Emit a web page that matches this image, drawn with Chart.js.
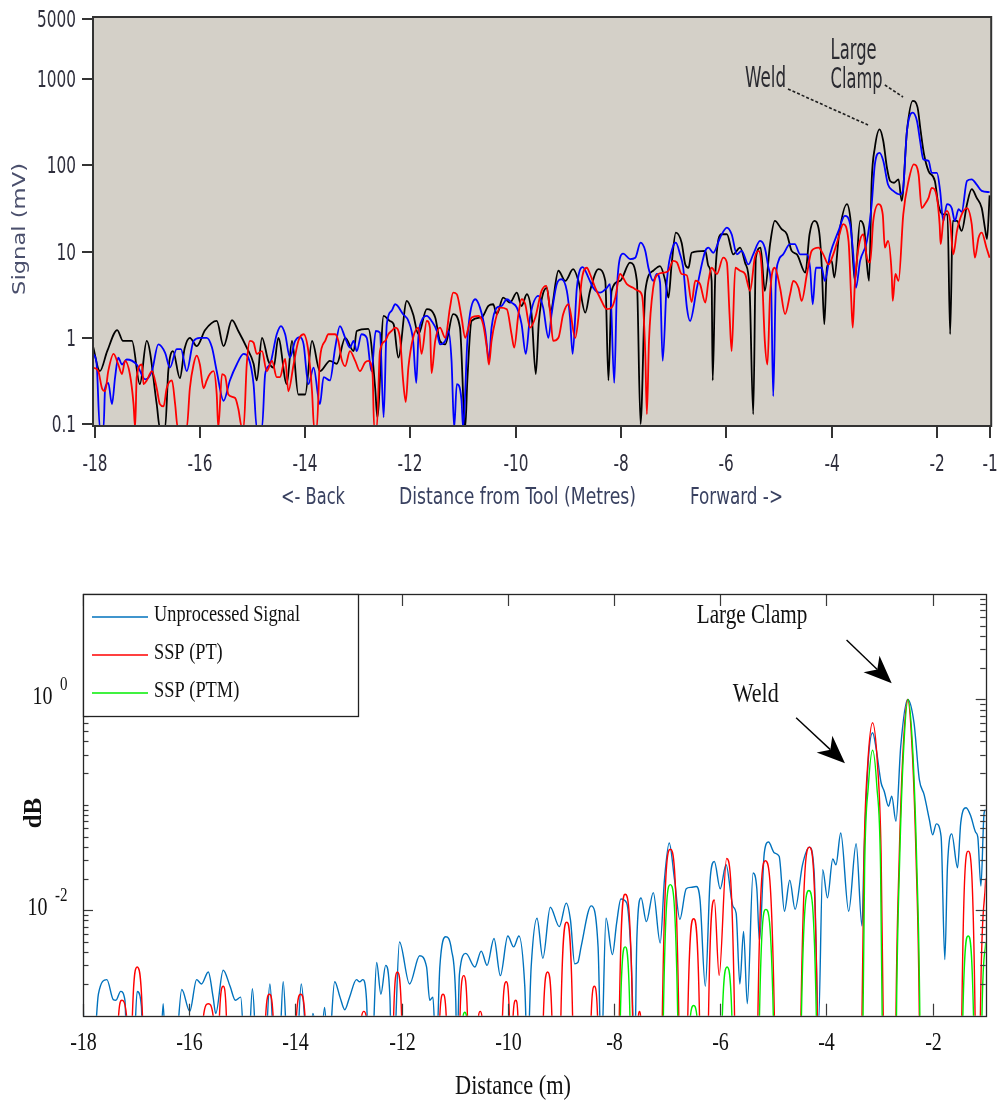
<!DOCTYPE html>
<html lang="en">
<head>
<meta charset="utf-8">
<title>Guided wave signal versus distance from tool</title>
<script src="https://cdn.jsdelivr.net/npm/chart.js@4.4.1/dist/chart.umd.min.js"></script>
<style>
  html, body { margin: 0; padding: 0; background: #ffffff; }
  body { position: relative; width: 1002px; height: 1104px; overflow: hidden; }
  canvas { position: absolute; left: 0; display: block; }
  #upper { top: 0; }
  #lower { top: 560px; }
</style>
</head>
<body>
<canvas id="upper" width="1002" height="530"></canvas>
<canvas id="lower" width="1002" height="544"></canvas>
<script>
// ---------------- Upper panel: received signal (mV) ----------------
const upperXTicks = [-18, -16, -14, -12, -10, -8, -6, -4, -2, -1];
const upperYTicks = [0.1, 1, 10, 100, 1000, 5000];

const blackX = [
  -18.03,-17.9,-17.76,-17.57,-17.46,-17.29,-17.14,-17.01,-16.82,-16.76,
  -16.66,-16.6,-16.51,-16.38,-16.29,-16.19,-16.06,-15.9,-15.68,-15.55,
  -15.39,-15.27,-15.11,-14.98,-14.92,-14.82,-14.7,-14.6,-14.51,-14.35,
  -14.25,-14.13,-14.0,-13.87,-13.72,-13.53,-13.4,-13.24,-13.08,-13.02,
  -12.8,-12.67,-12.63,-12.51,-12.39,-12.32,-12.23,-12.07,-11.95,-11.85,
  -11.69,-11.53,-11.44,-11.34,-11.19,-11.06,-10.96,-10.92,-10.84,-10.65,
  -10.52,-10.43,-10.36,-10.24,-10.11,-9.98,-9.89,-9.79,-9.7,-9.62,
  -9.56,-9.41,-9.34,-9.19,-9.06,-8.91,-8.81,-8.68,-8.59,-8.43,
  -8.3,-8.24,-8.18,-8.02,-7.83,-7.7,-7.63,-7.54,-7.39,-7.26,
  -7.16,-7.1,-7.04,-6.96,-6.85,-6.78,-6.72,-6.66,-6.4,-6.34,
  -6.28,-6.26,-6.21,-6.09,-5.99,-5.87,-5.74,-5.645,-5.56,-5.49,
  -5.44,-5.35,-5.27,-5.17,-5.08,-4.95,-4.85,-4.76,-4.66,-4.5,
  -4.42,-4.33,-4.24,-4.19,-4.14,-4.09,-4.0,-3.95,-3.86,-3.71,
  -3.64,-3.56,-3.46,-3.385,-3.33,-3.29,-3.24,-3.18,-3.09,-3.02,
  -2.95,-2.89,-2.815,-2.73,-2.67,-2.57,-2.46,-2.37,-2.31,-2.245,
  -2.16,-2.04,-1.97,-1.88,-1.8,-1.75,-1.7,-1.62,-1.53,-1.43,
  -1.34,-1.245,-1.15,-1.09,-1.05,-1.0
];
const blackY = [
  0.8,0.41,0.7,1.23,0.92,0.92,0.29,0.92,0.17,0.09,
  0.09,0.41,0.7,0.34,0.75,1.0,0.8,1.23,1.57,0.8,
  1.6,1.2,0.77,0.5,0.32,1.0,0.54,0.45,1.0,0.29,
  0.92,0.22,0.22,0.92,0.41,0.54,0.5,1.0,0.7,1.2,
  1.27,0.26,0.12,1.8,1.57,1.44,0.59,2.68,1.88,1.1,
  2.15,1.72,0.92,0.84,1.88,1.31,0.09,0.32,1.57,1.72,
  2.34,2.45,1.88,2.92,2.56,3.34,2.34,3.2,1.88,0.38,
  1.57,3.8,2.05,6.0,4.57,6.25,4.57,1.96,3.5,6.25,
  4.57,0.32,3.5,4.57,7.45,4.57,0.1,3.5,6.0,6.8,
  4.57,2.92,7.1,16.6,12.7,7.1,6.5,9.7,10.2,6.8,
  4.57,0.32,5.5,15.9,15.9,9.3,11.1,7.45,3.8,0.13,
  8.5,11.1,3.5,12.2,22.7,18.2,15.9,10.2,9.3,5.7,
  15.9,22.7,17.4,7.1,1.44,6.5,7.8,5.0,15.9,35.5,
  22.7,4.57,22.7,19,7.1,4.57,66,161,262,192,
  94,66,63,69,38.8,251,560,475,251,134,
  86,66,34,27,27,1.1,22.7,22.7,17.4,35.5,
  53,42,32,19,14,45
];

const blueX = [
  -18.02,-17.96,-17.9,-17.83,-17.8,-17.74,-17.67,-17.61,-17.55,-17.48,
  -17.39,-17.2,-17.04,-16.91,-16.79,-16.66,-16.57,-16.44,-16.36,-16.25,
  -16.12,-16.0,-15.87,-15.77,-15.68,-15.55,-15.43,-15.3,-15.17,-15.08,
  -14.98,-14.92,-14.82,-14.76,-14.67,-14.54,-14.46,-14.38,-14.29,-14.19,
  -14.1,-14.03,-13.94,-13.84,-13.72,-13.65,-13.53,-13.43,-13.34,-13.24,
  -13.15,-13.08,-13.02,-12.93,-12.83,-12.74,-12.66,-12.58,-12.51,-12.45,
  -12.36,-12.29,-12.14,-12.04,-11.95,-11.89,-11.85,-11.79,-11.69,-11.6,
  -11.5,-11.44,-11.34,-11.28,-11.22,-11.17,-11.12,-11.08,-11.03,-11.0,
  -10.92,-10.87,-10.77,-10.68,-10.58,-10.51,-10.46,-10.36,-10.27,-10.17,
  -10.08,-9.98,-9.89,-9.81,-9.73,-9.57,-9.48,-9.38,-9.32,-9.22,
  -9.13,-9.03,-8.97,-8.92,-8.84,-8.73,-8.62,-8.53,-8.4,-8.27,
  -8.21,-8.13,-8.08,-8.02,-7.96,-7.83,-7.73,-7.63,-7.54,-7.48,
  -7.39,-7.32,-7.26,-7.21,-7.13,-7.01,-6.96,-6.88,-6.82,-6.75,
  -6.69,-6.56,-6.4,-6.34,-6.25,-6.12,-5.99,-5.9,-5.8,-5.71,
  -5.58,-5.49,-5.36,-5.27,-5.2,-5.15,-5.11,-5.06,-5.01,-4.92,
  -4.79,-4.7,-4.6,-4.47,-4.41,-4.36,-4.3,-4.19,-4.13,-4.03,
  -3.87,-3.75,-3.65,-3.59,-3.54,-3.46,-3.33,-3.24,-3.18,-3.09,
  -3.02,-2.93,-2.83,-2.7,-2.65,-2.57,-2.46,-2.38,-2.32,-2.26,
  -2.16,-2.1,-2.0,-1.94,-1.88,-1.81,-1.72,-1.66,-1.59,-1.53,
  -1.43,-1.34,-1.245,-1.15,-1.0
];
const blueY = [
  0.65,0.49,0.09,0.09,0.26,0.30,0.17,0.35,0.59,0.49,
  0.56,0.49,0.33,0.41,0.84,0.67,0.45,0.74,0.74,0.41,
  0.92,1.0,1.0,0.77,0.41,0.186,0.32,0.49,0.65,0.59,
  0.29,0.09,0.09,0.38,0.49,1.1,1.37,1.1,0.59,0.92,
  1.02,0.84,0.29,0.45,0.17,0.35,0.32,0.77,1.37,1.0,
  0.77,0.92,0.7,1.1,1.0,0.41,1.2,1.15,0.12,1.44,
  2.05,2.45,1.88,1.57,0.92,0.30,1.0,1.57,1.8,1.57,
  1.2,0.84,0.92,1.2,0.54,0.09,0.29,0.28,0.186,0.09,
  0.92,1.88,2.8,2.24,1.2,0.56,1.31,2.24,2.34,2.8,
  2.56,2.24,1.44,0.65,1.72,3.06,2.24,1.0,1.88,4.2,
  4.78,3.5,1.72,0.65,3.8,6.6,5.0,3.8,3.34,3.8,
  4.2,0.30,3.5,8.5,9.5,8.2,8.5,12.7,10.2,6.5,
  4.57,5.5,4.4,0.54,4.57,11.6,12.7,9.3,6.5,2.24,
  1.57,3.8,10.2,11.1,9.7,14.5,19,15.9,9.3,10.2,
  7.1,9.3,13.3,11.1,6.5,3.8,0.21,4.57,7.8,9.3,
  12.2,12.2,9.3,9.3,6.5,2.45,6.5,6.5,4.57,9.3,
  17.4,26,20.8,9.3,3.8,7.8,13.3,35.5,103,140,
  113,60,50.7,46,50,251,410,328,192,118,
  113,82,82,50.7,22.7,35.5,32,22.7,31,29,
  66,69,60,50.7,49
];

const redX = [
  -18.02,-17.93,-17.86,-17.8,-17.74,-17.64,-17.55,-17.48,-17.42,-17.33,
  -17.26,-17.23,-17.2,-17.1,-17.07,-17.01,-16.91,-16.82,-16.76,-16.69,
  -16.63,-16.53,-16.47,-16.42,-16.25,-16.19,-16.12,-16.06,-16.0,-15.93,
  -15.87,-15.81,-15.74,-15.68,-15.65,-15.58,-15.52,-15.46,-15.33,-15.27,
  -15.2,-15.17,-15.11,-15.05,-14.98,-14.92,-14.82,-14.73,-14.63,-14.54,
  -14.48,-14.38,-14.32,-14.22,-14.13,-14.03,-13.94,-13.87,-13.83,-13.78,
  -13.72,-13.62,-13.56,-13.43,-13.37,-13.31,-13.24,-13.15,-13.05,-12.96,
  -12.86,-12.8,-12.72,-12.69,-12.64,-12.58,-12.48,-12.42,-12.36,-12.29,
  -12.2,-12.14,-12.09,-12.04,-11.95,-11.85,-11.79,-11.69,-11.63,-11.6,
  -11.53,-11.44,-11.34,-11.25,-11.19,-11.12,-11.03,-10.96,-10.9,-10.84,
  -10.71,-10.62,-10.55,-10.51,-10.46,-10.39,-10.3,-10.17,-10.08,-10.03,
  -9.95,-9.89,-9.82,-9.73,-9.63,-9.51,-9.42,-9.35,-9.29,-9.19,
  -9.1,-9.0,-8.87,-8.81,-8.75,-8.65,-8.59,-8.49,-8.4,-8.27,
  -8.18,-8.11,-8.02,-7.89,-7.77,-7.67,-7.6,-7.54,-7.51,-7.47,
  -7.39,-7.29,-7.2,-7.1,-7.01,-6.94,-6.85,-6.75,-6.66,-6.59,
  -6.5,-6.4,-6.34,-6.28,-6.18,-6.06,-5.99,-5.94,-5.9,-5.83,
  -5.74,-5.645,-5.55,-5.46,-5.39,-5.33,-5.27,-5.22,-5.17,-5.08,
  -4.98,-4.885,-4.79,-4.73,-4.63,-4.57,-4.47,-4.38,-4.25,-4.16,
  -4.06,-3.97,-3.87,-3.78,-3.68,-3.63,-3.6,-3.56,-3.49,-3.4,
  -3.33,-3.27,-3.21,-3.11,-3.03,-2.99,-2.93,-2.86,-2.84,-2.79,
  -2.73,-2.64,-2.54,-2.44,-2.35,-2.29,-2.23,-2.16,-2.1,-2.0,
  -1.95,-1.93,-1.88,-1.81,-1.75,-1.69,-1.62,-1.53,-1.43,-1.34,
  -1.28,-1.21,-1.15,-1.06,-1.0
];
const redY = [
  0.45,0.41,0.26,0.24,0.41,0.65,0.49,0.38,0.54,0.38,
  0.17,0.09,0.35,0.49,0.29,0.32,0.41,0.26,0.17,0.16,
  0.26,0.32,0.17,0.09,0.09,0.26,0.49,0.62,0.49,0.26,
  0.32,0.38,0.41,0.22,0.09,0.38,0.36,0.22,0.2,0.15,
  0.09,0.09,0.49,0.92,0.88,0.65,0.7,0.41,0.54,0.35,
  0.35,0.57,0.24,0.49,0.92,1.1,0.7,0.24,0.09,0.09,
  0.57,0.92,1.1,1.1,0.92,0.57,0.47,0.7,0.54,0.41,
  0.52,0.54,0.38,0.09,0.09,0.7,0.92,1.1,1.2,1.31,
  1.0,0.32,0.18,0.45,1.0,1.31,0.65,1.57,1.31,0.39,
  0.92,1.31,1.0,2.24,3.34,3.2,1.72,1.0,1.31,1.72,
  1.8,1.44,0.77,0.49,0.92,1.57,2.24,2.15,1.1,0.77,
  1.88,2.8,2.45,1.31,1.72,3.5,4.0,2.05,0.92,1.0,
  1.88,2.45,1.0,1.72,4.57,6.5,5.5,3.8,2.92,2.15,
  2.24,2.92,5.5,4.2,3.8,3.5,3.06,0.65,0.13,0.92,
  3.8,5.5,5.7,6.0,7.8,7.5,5.5,5.3,2.6,4.6,
  4.2,2.56,4.57,6.5,5.5,8.5,7.45,1.88,0.7,6.5,
  6.0,5.5,3.5,8.5,10.2,6.5,0.92,0.49,3.2,6.5,
  3.8,1.88,3.2,4.57,3.8,2.68,5.5,10.2,11.1,9.3,
  7.1,9.3,14.5,20.8,13.3,2.92,1.31,4.2,11.1,15.9,
  8.5,7.45,22.7,35.5,27,11.1,13.3,5.5,2.68,5.5,
  4.57,27,66,103,79,32,35.5,42,55,42,
  20.8,12.2,22.7,29.7,22.7,9.3,17.4,27,32,20.8,
  8.5,14.5,16.6,11.1,8.5
];

// ---------------- Lower panel: normalised response ----------------
const lowerXTicks = [-18, -16, -14, -12, -10, -8, -6, -4, -2];
const lowerYLabelled = [1, 0.01];
const lowerLabels = ['Unprocessed Signal', 'SSP (PT)', 'SSP (PTM)'];

const rawX = [
  -18.0,-17.96,-17.81,-17.71,-17.55,-17.43,-17.38,-17.29,-17.21,-17.17,
  -17.05,-16.98,-16.9,-16.87,-16.55,-16.49,-16.44,-16.27,-16.14,-15.99,
  -15.86,-15.77,-15.64,-15.55,-15.5,-15.36,-15.23,-15.13,-15.03,-14.95,
  -14.89,-14.81,-14.72,-14.58,-14.48,-14.39,-14.31,-14.23,-14.14,-13.98,
  -13.89,-13.76,-13.67,-13.54,-13.45,-13.38,-13.26,-13.16,-13.07,-12.98,
  -12.85,-12.79,-12.73,-12.66,-12.62,-12.56,-12.47,-12.39,-12.3,-12.22,
  -12.19,-12.15,-12.04,-11.85,-11.66,-11.53,-11.47,-11.41,-11.35,-11.28,
  -11.17,-11.06,-10.98,-10.96,-10.91,-10.79,-10.62,-10.5,-10.39,-10.26,
  -10.14,-10.0,-9.89,-9.79,-9.68,-9.63,-9.56,-9.45,-9.34,-9.2,
  -9.03,-8.9,-8.82,-8.74,-8.68,-8.62,-8.43,-8.3,-8.24,-8.15,
  -8.03,-7.95,-7.87,-7.76,-7.68,-7.61,-7.57,-7.49,-7.39,-7.26,
  -7.13,-7.05,-6.96,-6.86,-6.76,-6.64,-6.55,-6.45,-6.38,-6.28,
  -6.19,-6.11,-6.0,-5.89,-5.76,-5.7,-5.63,-5.56,-5.49,-5.38,
  -5.31,-5.26,-5.17,-5.09,-4.98,-4.89,-4.79,-4.69,-4.59,-4.45,
  -4.32,-4.23,-4.15,-4.07,-3.98,-3.88,-3.82,-3.73,-3.58,-3.44,
  -3.33,-3.29,-3.21,-3.13,-3.06,-2.97,-2.91,-2.83,-2.77,-2.69,
  -2.6,-2.47,-2.35,-2.25,-2.16,-2.06,-2.0,-1.93,-1.84,-1.77,
  -1.72,-1.64,-1.53,-1.47,-1.37,-1.28,-1.19,-1.15,-1.09,-1.03,
  -1.0
];
const rawY = [
  0.0014,0.0004,0.0004,0.0016,0.0022,0.00142,0.0014,0.0017,0.0014,0.0004,
  0.0004,0.0017,0.00123,0.0004,0.0004,0.0013,0.0004,0.0004,0.00177,0.0011,
  0.0022,0.002,0.0026,0.0015,0.00105,0.0027,0.0019,0.0014,0.0015,0.0004,
  0.0004,0.0018,0.0004,0.0004,0.002,0.0004,0.0004,0.0021,0.0004,0.0004,
  0.002,0.0004,0.00105,0.0004,0.0012,0.0004,0.0021,0.0015,0.00114,0.0015,
  0.0022,0.0021,0.0022,0.0014,0.0004,0.0004,0.0032,0.0016,0.003,0.0015,
  0.0004,0.0004,0.005,0.002,0.0037,0.0029,0.0014,0.0015,0.0004,0.0029,
  0.0056,0.0042,0.0014,0.0004,0.0025,0.0039,0.0029,0.0041,0.003,0.0054,
  0.0024,0.0057,0.0045,0.0057,0.0019,0.0004,0.0029,0.0084,0.0035,0.0107,
  0.007,0.0117,0.0081,0.0031,0.0032,0.0045,0.011,0.0045,0.0004,0.0084,
  0.0038,0.0076,0.0128,0.0117,0.0039,0.0004,0.0053,0.0131,0.0078,0.0147,
  0.0049,0.0195,0.0435,0.0195,0.0082,0.016,0.0165,0.0168,0.0126,0.0019,
  0.0195,0.029,0.016,0.027,0.0109,0.0094,0.002,0.0063,0.0013,0.0226,
  0.016,0.0051,0.0349,0.0444,0.035,0.0325,0.0098,0.0193,0.0102,0.027,
  0.0397,0.0226,0.0008,0.0243,0.0131,0.0306,0.027,0.0541,0.0098,0.0427,
  0.0071,0.0349,0.269,0.483,0.335,0.162,0.134,0.097,0.121,0.07,
  0.36,1.0,0.6,0.174,0.125,0.072,0.052,0.066,0.05,0.0034,
  0.026,0.053,0.0253,0.0675,0.094,0.078,0.055,0.05,0.017,0.084,
  0.09
];

// SSP (PT): isolated lobes, values below 1e-3 lie under the axis floor
const sspPtX = [
  -17.36,-17.33,-17.27,-17.18,-17.15,
  -17.10,-17.07,-16.98,-16.88,-16.85,
  -15.76,-15.73,-15.64,-15.55,-15.52,
  -15.46,-15.43,-15.36,-15.30,-15.27,
  -14.59,-14.56,-14.49,-14.42,-14.39,
  -14.01,-13.98,-13.90,-13.82,-13.79,
  -12.78,-12.75,-12.71,-12.67,-12.64,
  -12.18,-12.15,-12.08,-12.00,-11.97,
  -11.31,-11.28,-11.22,-11.16,-11.13,
  -10.93,-10.90,-10.83,-10.76,-10.73,
  -10.58,-10.55,-10.52,-10.49,-10.46,
  -10.13,-10.10,-10.03,-9.97,-9.95,
  -9.93,-9.90,-9.85,-9.81,-9.78,
  -9.36,-9.33,-9.25,-9.17,-9.14,
  -9.03,-9.00,-8.89,-8.78,-8.75,
  -8.46,-8.43,-8.37,-8.31,-8.28,
  -7.93,-7.90,-7.79,-7.65,-7.62,
  -7.57,-7.54,-7.52,-7.50,-7.47,
  -7.12,-7.09,-6.94,-6.78,-6.75,
  -6.64,-6.61,-6.50,-6.39,-6.36,
  -6.25,-6.22,-6.11,-6.02,-5.88,-5.73,-5.70,
  -5.32,-5.29,-5.15,-4.98,-4.95,
  -4.51,-4.48,-4.32,-4.17,-4.14,
  -3.36,-3.33,-3.29,-3.22,-3.13,-3.04,-2.97,-2.93,-2.90,
  -2.72,-2.69,-2.63,-2.56,-2.47,-2.38,-2.31,-2.25,-2.22,
  -1.48,-1.45,-1.33,-1.20,-1.17,
  -1.13,-1.10,-1.00
];
const sspPtY = [
  1e-5,0.001,0.0014,0.001,1e-5,
  1e-5,0.001,0.0029,0.001,1e-5,
  1e-5,0.001,0.0013,0.001,1e-5,
  1e-5,0.001,0.0019,0.001,1e-5,
  1e-5,0.001,0.0016,0.001,1e-5,
  1e-5,0.001,0.0016,0.001,1e-5,
  1e-5,0.001,0.0011,0.001,1e-5,
  1e-5,0.001,0.0026,0.001,1e-5,
  1e-5,0.001,0.0016,0.001,1e-5,
  1e-5,0.001,0.0024,0.001,1e-5,
  1e-5,0.001,0.0011,0.001,1e-5,
  1e-5,0.001,0.0021,0.001,1e-5,
  1e-5,0.001,0.0014,0.001,1e-5,
  1e-5,0.001,0.0026,0.001,1e-5,
  1e-5,0.001,0.0077,0.001,1e-5,
  1e-5,0.001,0.0019,0.001,1e-5,
  1e-5,0.001,0.0142,0.001,1e-5,
  1e-5,0.001,0.0011,0.001,1e-5,
  1e-5,0.001,0.0379,0.001,1e-5,
  1e-5,0.001,0.0083,0.001,1e-5,
  1e-5,0.001,0.0125,0.0024,0.031,0.001,1e-5,
  1e-5,0.001,0.0295,0.001,1e-5,
  1e-5,0.001,0.0397,0.001,1e-5,
  1e-5,0.001,0.035,0.25,0.6,0.25,0.035,0.001,1e-5,
  1e-5,0.001,0.03,0.3,1.0,0.3,0.03,0.001,1e-5,
  1e-5,0.001,0.0364,0.001,1e-5,
  1e-5,0.001,0.02
];

// SSP (PTM)
const sspPtmX = [
  -10.86,-10.84,-10.81,-10.78,-10.76,
  -7.91,-7.88,-7.79,-7.70,-7.67,
  -7.10,-7.07,-6.94,-6.80,-6.77,
  -6.59,-6.56,-6.50,-6.44,-6.41,
  -5.99,-5.96,-5.87,-5.78,-5.75,
  -5.29,-5.26,-5.14,-5.00,-4.97,
  -4.50,-4.47,-4.33,-4.19,-4.16,
  -3.34,-3.31,-3.28,-3.21,-3.13,-3.05,-2.98,-2.95,-2.92,
  -2.71,-2.68,-2.62,-2.55,-2.46,-2.37,-2.30,-2.24,-2.21,
  -1.46,-1.43,-1.33,-1.23,-1.20,
  -1.10,-1.07,-1.00
];
const sspPtmY = [
  1e-5,0.001,0.00108,0.001,1e-5,
  1e-5,0.001,0.0045,0.001,1e-5,
  1e-5,0.001,0.0175,0.001,1e-5,
  1e-5,0.001,0.00125,0.001,1e-5,
  1e-5,0.001,0.0029,0.001,1e-5,
  1e-5,0.001,0.0102,0.001,1e-5,
  1e-5,0.001,0.0154,0.001,1e-5,
  1e-5,0.001,0.025,0.15,0.33,0.15,0.025,0.001,1e-5,
  1e-5,0.001,0.03,0.3,1.0,0.3,0.03,0.001,1e-5,
  1e-5,0.001,0.0057,0.001,1e-5,
  1e-5,0.001,0.0049
];

// ---------------- helpers ----------------
const SANS = '"DejaVu Sans Condensed", "DejaVu Sans", sans-serif';
const SERIF = '"Liberation Serif", "Times New Roman", serif';
const pts = (xs, ys) => xs.map((v, i) => ({ x: v, y: ys[i] }));

function seg(ctx, x0, y0, x1, y1) {
  ctx.beginPath(); ctx.moveTo(x0, y0); ctx.lineTo(x1, y1); ctx.stroke();
}

// text with optional width fit and vertical stretch, baseline at (x, y)
function drawText(ctx, s, x, y, o) {
  ctx.save();
  ctx.font = o.font;
  ctx.fillStyle = o.color || '#000';
  const w0 = ctx.measureText(s).width;
  const sx = o.w ? o.w / w0 : (o.sx || 1);
  const sy = o.sy || 1;
  ctx.translate(x, y);
  if (o.rot) ctx.rotate(o.rot);
  ctx.scale(sx, sy);
  const dx = o.align === 'center' ? -w0 / 2 : (o.align === 'right' ? -w0 : 0);
  ctx.textAlign = 'left';
  ctx.textBaseline = 'alphabetic';
  ctx.fillText(s, dx, 0);
  ctx.restore();
  return w0 * sx;
}

function arrow(ctx, x0, y0, x1, y1) {
  const dx = x1 - x0, dy = y1 - y0, L = Math.hypot(dx, dy);
  const ux = dx / L, uy = dy / L, nx = -uy, ny = ux;
  const hl = 28, hw = 11.5, notch = 8;
  ctx.beginPath();
  ctx.moveTo(x0, y0);
  ctx.lineTo(x1 - ux * (hl - notch), y1 - uy * (hl - notch));
  ctx.stroke();
  ctx.beginPath();
  ctx.moveTo(x1, y1);
  ctx.lineTo(x1 - ux * hl + nx * hw, y1 - uy * hl + ny * hw);
  ctx.lineTo(x1 - ux * (hl - notch), y1 - uy * (hl - notch));
  ctx.lineTo(x1 - ux * hl - nx * hw, y1 - uy * hl - ny * hw);
  ctx.closePath();
  ctx.fill();
}

// ---------------- upper panel decorations ----------------
const upperDecor = {
  id: 'upperDecor',
  beforeDraw(chart) {
    const { ctx, chartArea: a } = chart;
    ctx.save();
    ctx.fillStyle = '#d4d0c8';
    ctx.fillRect(a.left, a.top, a.right - a.left, a.bottom - a.top);
    ctx.restore();
  },
  afterDatasetsDraw(chart) {
    const { ctx, chartArea: a, scales: { x, y } } = chart;
    ctx.save();
    ctx.strokeStyle = '#333333';
    ctx.lineWidth = 2;
    ctx.strokeRect(a.left, a.top, a.right - a.left, a.bottom - a.top);

    const tickFont = '17px ' + SANS;
    upperYTicks.forEach(v => {
      const py = Math.round(y.getPixelForValue(v));
      seg(ctx, a.left - 11, py, a.left, py);
      drawText(ctx, String(v), a.left - 17, py + 8, { font: tickFont, sy: 1.35, align: 'right', color: '#2e2e3c' });
    });
    upperXTicks.forEach(v => {
      const px = Math.round(x.getPixelForValue(v));
      seg(ctx, px, a.bottom, px, a.bottom + 12);
      drawText(ctx, String(v), px, 471, { font: tickFont, sy: 1.35, align: 'center', color: '#2e2e3c' });
    });

    // axis titles
    const titleColor = '#394160';
    drawText(ctx, '<- Back', 313, 504, { font: tickFont, w: 64, sy: 1.35, align: 'center', color: titleColor });
    drawText(ctx, 'Distance from Tool (Metres)', 517.5, 504, { font: tickFont, w: 237, sy: 1.35, align: 'center', color: titleColor });
    drawText(ctx, 'Forward ->', 736.5, 504, { font: tickFont, w: 93, sy: 1.35, align: 'center', color: titleColor });
    drawText(ctx, 'Signal (mV)', 25, 229, { font: tickFont, w: 132, sy: 1.0, align: 'center', rot: -Math.PI / 2, color: '#4a4f6c' });

    // feature call-outs
    const annFont = '17px ' + SANS;
    const X = v => x.getPixelForValue(v), Y = v => y.getPixelForValue(v);
    drawText(ctx, 'Weld', X(-5.645), Y(806), { font: annFont, w: 41, sy: 1.62, color: '#2a2a30' });
    drawText(ctx, 'Large', X(-4.02), Y(1704), { font: annFont, w: 46, sy: 1.62, color: '#2a2a30' });
    drawText(ctx, 'Clamp', X(-4.02), Y(785), { font: annFont, w: 52, sy: 1.62, color: '#2a2a30' });
    ctx.strokeStyle = '#1e1e1e';
    ctx.lineWidth = 1.6;
    ctx.setLineDash([3, 2]);
    seg(ctx, X(-4.83), Y(771), X(-3.31), Y(295));
    seg(ctx, X(-2.99), Y(858), X(-2.645), Y(623));
    ctx.restore();
  }
};

new Chart(document.getElementById('upper'), {
  type: 'line',
  data: {
    datasets: [
      { label: 'Black', data: pts(blackX, blackY), borderColor: '#000000', order: 2 },
      { label: 'Blue', data: pts(blueX, blueY), borderColor: '#0000ff', order: 1 },
      { label: 'Red', data: pts(redX, redY), borderColor: '#ff0000', order: 0 }
    ].map(d => Object.assign(d, {
      borderWidth: 1.8, pointRadius: 0, cubicInterpolationMode: 'monotone',
      capBezierPoints: false, fill: false, clip: 0, borderJoinStyle: 'round'
    }))
  },
  options: {
    responsive: false,
    animation: false,
    events: [],
    layout: { padding: { top: 17, right: 10.8, left: 0, bottom: 0 } },
    plugins: { legend: { display: false }, tooltip: { enabled: false } },
    scales: {
      x: {
        type: 'linear', min: -18.03, max: -0.97,
        ticks: { display: false }, grid: { display: false }, border: { display: false },
        afterFit(s) { s.height = 104; }
      },
      y: {
        type: 'logarithmic', min: 0.0948, max: 5275,
        ticks: { display: false }, grid: { display: false }, border: { display: false },
        afterFit(s) { s.width = 93; }
      }
    }
  },
  plugins: [upperDecor]
});

// ---------------- lower panel decorations ----------------
const lowerDecor = {
  id: 'lowerDecor',
  afterDatasetsDraw(chart) {
    const { ctx, chartArea: a, scales: { x, y } } = chart;
    const X = v => x.getPixelForValue(v), Y = v => y.getPixelForValue(v);
    ctx.save();
    ctx.strokeStyle = '#3a3a3a';
    ctx.lineWidth = 1.2;

    lowerXTicks.forEach(v => {
      const px = Math.round(X(v)) + 0.5;
      seg(ctx, px, a.bottom, px, a.bottom - 12);
      seg(ctx, px, a.top, px, a.top + 12);
      drawText(ctx, String(v), px, 489.5, { font: '20px ' + SERIF, sy: 1.25, align: 'center', color: '#111' });
    });

    // logarithmic minor ticks on both sides
    for (const d of [0.001, 0.01, 0.1, 1]) {
      for (let k = 2; k <= 9; k++) {
        const py = Math.round(Y(k * d)) + 0.5;
        seg(ctx, a.left, py, a.left + 5.5, py);
        seg(ctx, a.right, py, a.right - 5.5, py);
      }
    }
    const p01 = Math.round(Y(0.1)) + 0.5;
    seg(ctx, a.left, p01, a.left + 5.5, p01);
    seg(ctx, a.right, p01, a.right - 5.5, p01);
    lowerYLabelled.forEach(v => {
      const py = Math.round(Y(v)) + 0.5;
      seg(ctx, a.left, py, a.left + 10, py);
      seg(ctx, a.right, py, a.right - 10, py);
    });

    ctx.strokeStyle = '#262626';
    ctx.lineWidth = 1.3;
    ctx.strokeRect(Math.round(a.left) + 0.5, Math.round(a.top) + 0.5,
                   Math.round(a.right - a.left), Math.round(a.bottom - a.top));

    // power-of-ten tick labels
    const labelRight = 67.5;
    lowerYLabelled.forEach(v => {
      const py = Y(v);
      const exp = String(Math.round(Math.log10(v)));
      ctx.font = '15px ' + SERIF;
      const wExp = ctx.measureText(exp).width;
      const expLeft = labelRight - wExp;
      drawText(ctx, exp, expLeft, py - 9, { font: '15px ' + SERIF, sy: 1.2, color: '#111' });
      drawText(ctx, '10', expLeft - 7.5, py + 5, { font: '20px ' + SERIF, sy: 1.25, align: 'right', color: '#111' });
    });

    drawText(ctx, 'Distance (m)', 513, 534, { font: '21px ' + SERIF, w: 116, sy: 1.25, align: 'center', color: '#111' });
    drawText(ctx, 'dB', 40.5, 253, { font: 'bold 25px ' + SERIF, align: 'center', rot: -Math.PI / 2, color: '#111' });

    // call-outs
    ctx.fillStyle = '#000';
    ctx.strokeStyle = '#000';
    ctx.lineWidth = 1.4;
    drawText(ctx, 'Large Clamp', X(-5.40), Y(5.27), { font: '21px ' + SERIF, w: 110.7, sy: 1.25, align: 'center', color: '#111' });
    drawText(ctx, 'Weld', X(-5.33), Y(0.951), { font: '21px ' + SERIF, w: 46, sy: 1.25, align: 'center', color: '#111' });
    arrow(ctx, X(-3.62), Y(3.66), X(-2.77), Y(1.42));
    arrow(ctx, X(-4.57), Y(0.67), X(-3.65), Y(0.248));

    // legend box
    const lx = Math.round(a.left), ly = Math.round(a.top), lw = 275, lh = 122;
    ctx.fillStyle = '#ffffff';
    ctx.fillRect(lx, ly, lw, lh);
    ctx.strokeStyle = '#222';
    ctx.lineWidth = 1.3;
    ctx.strokeRect(lx + 0.5, ly + 0.5, lw, lh);
    const legendW = [146, 68.7, 85.3];
    chart.data.datasets.forEach((ds, i) => {
      const yy = ly + 23 + i * 38;
      ctx.strokeStyle = ds.borderColor;
      ctx.lineWidth = 1.5;
      seg(ctx, lx + 9, yy, lx + 65, yy);
      drawText(ctx, ds.label, lx + 71, yy + 3.5, { font: '19px ' + SERIF, w: legendW[i], sy: 1.17, color: '#111' });
    });
    ctx.restore();
  }
};

new Chart(document.getElementById('lower'), {
  type: 'line',
  data: {
    datasets: [
      { label: lowerLabels[0], data: pts(rawX, rawY), borderColor: '#0072bd', order: 2 },
      { label: lowerLabels[1], data: pts(sspPtX, sspPtY), borderColor: '#ff0000', order: 1 },
      { label: lowerLabels[2], data: pts(sspPtmX, sspPtmY), borderColor: '#00ee00', order: 0 }
    ].map(d => Object.assign(d, {
      borderWidth: 1.4, pointRadius: 0, cubicInterpolationMode: 'monotone',
      capBezierPoints: false, fill: false, clip: 0
    }))
  },
  options: {
    responsive: false,
    animation: false,
    events: [],
    layout: { padding: { top: 34, right: 16.3, left: 0, bottom: 0 } },
    plugins: { legend: { display: false }, tooltip: { enabled: false } },
    scales: {
      x: {
        type: 'linear', min: -18, max: -1,
        ticks: { display: false }, grid: { display: false }, border: { display: false },
        afterFit(s) { s.height = 88.3; }
      },
      y: {
        type: 'logarithmic', min: 0.001, max: 10,
        ticks: { display: false }, grid: { display: false }, border: { display: false },
        afterFit(s) { s.width = 83; }
      }
    }
  },
  plugins: [lowerDecor]
});
</script>
</body>
</html>
